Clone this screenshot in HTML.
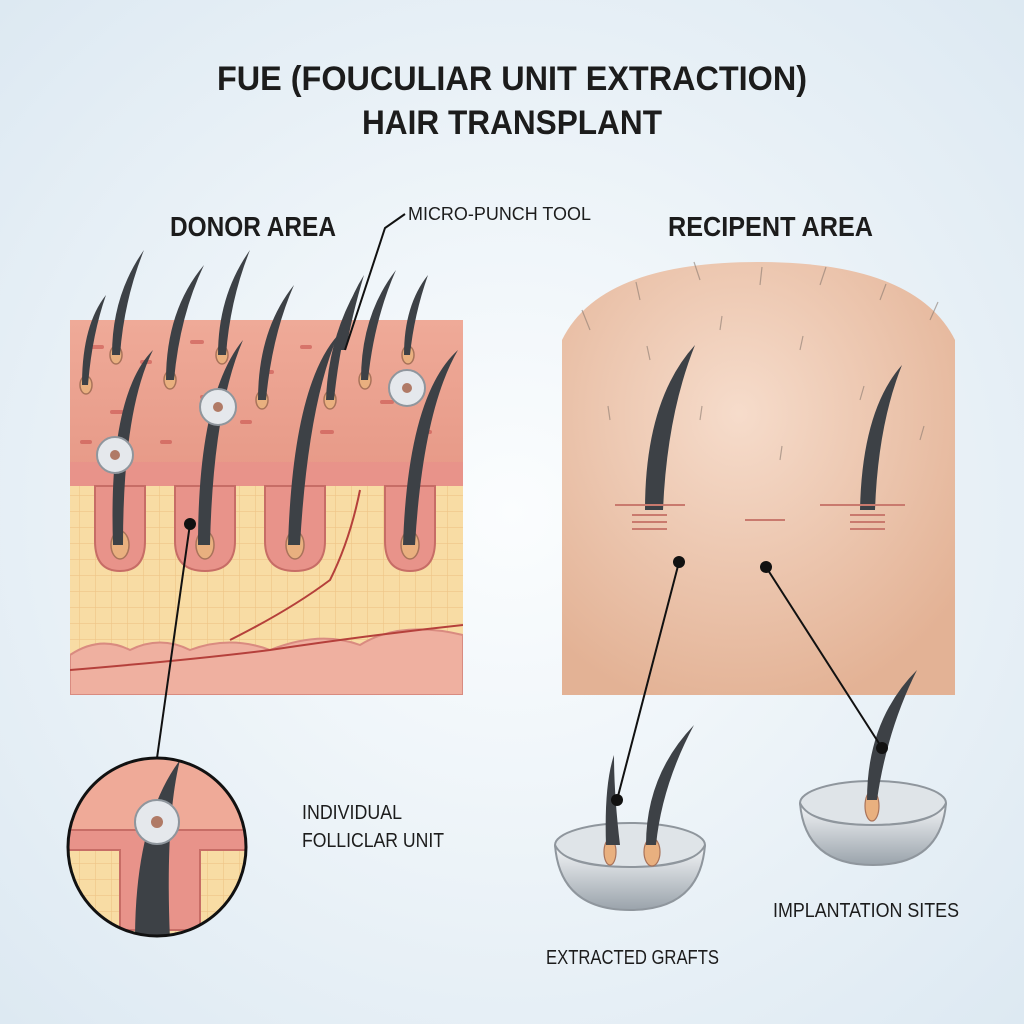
<!DOCTYPE html>
<html><head><meta charset="utf-8"><style>
html,body{margin:0;padding:0;width:1024px;height:1024px;overflow:hidden}
svg{display:block}
text{font-family:"Liberation Sans",sans-serif;fill:#1c1c1c}
</style></head><body>
<svg width="1024" height="1024" viewBox="0 0 1024 1024" xmlns="http://www.w3.org/2000/svg">
<defs>
<radialGradient id="bg" cx="50%" cy="50%" r="70%"><stop offset="0" stop-color="#fbfdfe"/><stop offset="1" stop-color="#dde9f2"/></radialGradient>
<radialGradient id="scalp" cx="45%" cy="35%" r="70%"><stop offset="0" stop-color="#f6dccb"/><stop offset="1" stop-color="#e3b295"/></radialGradient>
<linearGradient id="epi" x1="0" y1="0" x2="0" y2="1"><stop offset="0" stop-color="#efaa98"/><stop offset="1" stop-color="#e79a88"/></linearGradient>
<pattern id="grid" width="16" height="16" patternUnits="userSpaceOnUse"><rect width="16" height="16" fill="#f8dca4"/><path d="M16 0V16H0" fill="none" stroke="#eec487" stroke-width="1.2"/></pattern>
<linearGradient id="bowl" x1="0" y1="0" x2="0" y2="1"><stop offset="0" stop-color="#f4f6f8"/><stop offset="1" stop-color="#9aa3ab"/></linearGradient>
<clipPath id="cc"><circle cx="157" cy="847" r="88"/></clipPath>
<clipPath id="donor"><rect x="70" y="250" width="393" height="445"/></clipPath>
</defs>
<rect width="1024" height="1024" fill="url(#bg)"/>
<text x="512" y="90" text-anchor="middle" font-size="34" font-weight="bold" textLength="590" lengthAdjust="spacingAndGlyphs">FUE (FOUCULIAR UNIT EXTRACTION)</text>
<text x="512" y="134" text-anchor="middle" font-size="34" font-weight="bold" textLength="300" lengthAdjust="spacingAndGlyphs">HAIR TRANSPLANT</text>
<text x="170" y="236" font-size="28" font-weight="bold" textLength="166" lengthAdjust="spacingAndGlyphs">DONOR AREA</text>
<text x="668" y="236" font-size="28" font-weight="bold" textLength="205" lengthAdjust="spacingAndGlyphs">RECIPENT AREA</text>
<text x="408" y="220" font-size="18" textLength="183" lengthAdjust="spacingAndGlyphs">MICRO-PUNCH TOOL</text>

<!-- donor block -->
<g clip-path="url(#donor)">
<rect x="70" y="320" width="393" height="375" fill="url(#grid)"/>
<rect x="70" y="320" width="393" height="148" fill="url(#epi)"/>
<rect x="70" y="462" width="393" height="24" fill="#e8938a"/>
<g fill="#e8938a" stroke="#c76d66" stroke-width="2">
<path d="M95 486 v55 q0 30 25 30 q25 0 25 -30 v-55z"/>
<path d="M175 486 v55 q0 30 30 30 q30 0 30 -30 v-55z"/>
<path d="M265 486 v55 q0 30 30 30 q30 0 30 -30 v-55z"/>
<path d="M385 486 v55 q0 30 25 30 q25 0 25 -30 v-55z"/>
</g>
<path d="M70 655 q30 -20 60 -5 q30 -15 60 0 q40 -15 80 0 q50 -20 90 -5 q40 -25 103 -10 V695 H70z" fill="#efb0a0" stroke="#d98b80" stroke-width="2"/>
<path d="M70 670 q120 -10 200 -20 q100 -15 193 -25" stroke="#b5403b" stroke-width="2" fill="none"/>
<path d="M230 640 q60 -30 100 -60 q20 -40 30 -90" stroke="#b5403b" stroke-width="2" fill="none"/>
<g fill="#c9534f" opacity=".6">
<rect x="90" y="345" width="14" height="4" rx="2"/><rect x="140" y="360" width="12" height="4" rx="2"/><rect x="190" y="340" width="14" height="4" rx="2"/><rect x="260" y="370" width="14" height="4" rx="2"/><rect x="300" y="345" width="12" height="4" rx="2"/><rect x="380" y="400" width="14" height="4" rx="2"/><rect x="110" y="410" width="14" height="4" rx="2"/><rect x="240" y="420" width="12" height="4" rx="2"/><rect x="320" y="430" width="14" height="4" rx="2"/><rect x="160" y="440" width="12" height="4" rx="2"/><rect x="420" y="430" width="12" height="4" rx="2"/><rect x="80" y="440" width="12" height="4" rx="2"/><rect x="200" y="395" width="12" height="4" rx="2"/>
</g>
<!-- follicles -->
<g fill="#e9b07f" stroke="#a9735a" stroke-width="1.5">
<ellipse cx="120" cy="545" rx="9" ry="14"/><ellipse cx="205" cy="545" rx="9" ry="14"/><ellipse cx="295" cy="545" rx="9" ry="14"/><ellipse cx="410" cy="545" rx="9" ry="14"/>
<ellipse cx="116" cy="355" rx="6" ry="9"/><ellipse cx="170" cy="380" rx="6" ry="9"/><ellipse cx="222" cy="355" rx="6" ry="9"/><ellipse cx="262" cy="400" rx="6" ry="9"/><ellipse cx="365" cy="380" rx="6" ry="9"/><ellipse cx="408" cy="355" rx="6" ry="9"/><ellipse cx="86" cy="385" rx="6" ry="9"/><ellipse cx="330" cy="400" rx="6" ry="9"/>
</g>
<g fill="#3d4146">
<path d="M113 545 q-5 -150 40 -195 q-30 60 -30 195z"/>
<path d="M198 545 q0 -150 45 -205 q-30 70 -33 205z"/>
<path d="M288 545 q5 -160 50 -210 q-30 70 -38 210z"/>
<path d="M403 545 q5 -150 55 -195 q-35 60 -43 195z"/>
<path d="M112 355 q0 -60 32 -105 q-20 50 -24 105z"/>
<path d="M166 380 q0 -70 38 -115 q-24 50 -30 115z"/>
<path d="M218 355 q0 -60 32 -105 q-20 50 -24 105z"/>
<path d="M258 400 q0 -70 36 -115 q-22 50 -28 115z"/>
<path d="M361 380 q0 -65 35 -110 q-22 50 -28 110z"/>
<path d="M404 355 q0 -50 24 -80 q-14 40 -18 80z"/>
<path d="M82 385 q0 -60 24 -90 q-14 40 -18 90z"/>
<path d="M326 400 q2 -60 30 -110 q-16 50 -22 110z"/>
<path d="M340 350 q2 -40 24 -75 q-12 40 -18 75z"/>
</g>
<!-- punches -->
<g fill="#e5e8ec" stroke="#8f969d" stroke-width="2">
<circle cx="115" cy="455" r="18"/><circle cx="218" cy="407" r="18"/><circle cx="407" cy="388" r="18"/>
</g>
<g fill="#b07a66"><circle cx="115" cy="455" r="5"/><circle cx="218" cy="407" r="5"/><circle cx="407" cy="388" r="5"/></g>
</g>

<!-- inset circle -->
<g clip-path="url(#cc)">
<rect x="60" y="750" width="200" height="200" fill="url(#grid)"/>
<rect x="60" y="750" width="200" height="80" fill="#efaa98"/>
<path d="M60 830 h200 v20 h-60 v80 h-80 v-80 h-60z" fill="#e8938a" stroke="#c76d66" stroke-width="2"/>
<path d="M135 940 q0 -120 45 -180 q-15 60 -10 180z" fill="#3d4146"/>
<circle cx="157" cy="822" r="22" fill="#e5e8ec" stroke="#8f969d" stroke-width="2"/>
<circle cx="157" cy="822" r="6" fill="#b07a66"/>
</g>
<circle cx="157" cy="847" r="89" fill="none" stroke="#111" stroke-width="3"/>
<text x="302" y="819" font-size="20" textLength="100" lengthAdjust="spacingAndGlyphs">INDIVIDUAL</text>
<text x="302" y="847" font-size="20" textLength="142" lengthAdjust="spacingAndGlyphs">FOLLICLAR UNIT</text>

<!-- recipient scalp -->
<path d="M562 340 Q600 262 758 262 Q916 262 955 340 V695 H562z" fill="url(#scalp)"/>
<g stroke="#8a7a70" stroke-width="1.2" fill="none" opacity=".6">
<path d="M590 330 l-8 -20"/><path d="M640 300 l-4 -18"/><path d="M700 280 l-6 -18"/><path d="M760 285 l2 -18"/><path d="M820 285 l6 -18"/><path d="M880 300 l6 -16"/><path d="M930 320 l8 -18"/><path d="M650 360 l-3 -14"/><path d="M720 330 l2 -14"/><path d="M800 350 l3 -14"/><path d="M860 400 l4 -14"/><path d="M610 420 l-2 -14"/><path d="M700 420 l2 -14"/><path d="M780 460 l2 -14"/><path d="M920 440 l4 -14"/>
</g>
<path d="M645 510 q0 -110 50 -165 q-28 70 -32 165z" fill="#3d4146"/>
<path d="M860 510 q2 -100 42 -145 q-24 60 -27 145z" fill="#3d4146"/>
<g stroke="#c97a6e" stroke-width="2">
<path d="M615 505 h70"/><path d="M632 515 h35"/><path d="M632 522 h35"/><path d="M632 529 h35"/>
<path d="M745 520 h40"/>
<path d="M820 505 h85"/><path d="M850 515 h35"/><path d="M850 522 h35"/><path d="M850 529 h35"/>
</g>

<!-- bowls -->
<ellipse cx="630" cy="845" rx="75" ry="22" fill="#dfe4e8" stroke="#8f969d" stroke-width="2"/>
<path d="M555 845 q5 65 75 65 q70 0 75 -65 q-10 22 -75 22 q-65 0 -75 -22z" fill="url(#bowl)" stroke="#8f969d" stroke-width="2"/>
<ellipse cx="873" cy="803" rx="73" ry="22" fill="#dfe4e8" stroke="#8f969d" stroke-width="2"/>
<path d="M800 803 q5 62 73 62 q68 0 73 -62 q-10 22 -73 22 q-63 0 -73 -22z" fill="url(#bowl)" stroke="#8f969d" stroke-width="2"/>
<g fill="#e9b07f" stroke="#a9735a" stroke-width="1.2">
<ellipse cx="610" cy="852" rx="6" ry="13"/><ellipse cx="652" cy="852" rx="8" ry="14"/><ellipse cx="872" cy="806" rx="7" ry="15"/>
</g>
<g fill="#3d4146">
<path d="M606 845 q-2 -60 8 -90 q0 40 6 90z"/>
<path d="M646 845 q0 -70 48 -120 q-32 60 -38 120z"/>
<path d="M867 800 q0 -80 50 -130 q-30 60 -40 130z"/>
</g>
<text x="546" y="964" font-size="20" textLength="173" lengthAdjust="spacingAndGlyphs">EXTRACTED GRAFTS</text>
<text x="773" y="917" font-size="20" textLength="186" lengthAdjust="spacingAndGlyphs">IMPLANTATION SITES</text>

<!-- connectors -->
<g stroke="#111" stroke-width="2" fill="none">
<path d="M405 214 L385 228 L345 350"/>
<path d="M190 524 L157 758"/>
<path d="M679 562 L617 800"/>
<path d="M766 567 L882 748"/>
</g>
<g fill="#111">
<circle cx="190" cy="524" r="6"/><circle cx="679" cy="562" r="6"/><circle cx="617" cy="800" r="6"/><circle cx="766" cy="567" r="6"/><circle cx="882" cy="748" r="6"/>
</g>
</svg>
</body></html>
